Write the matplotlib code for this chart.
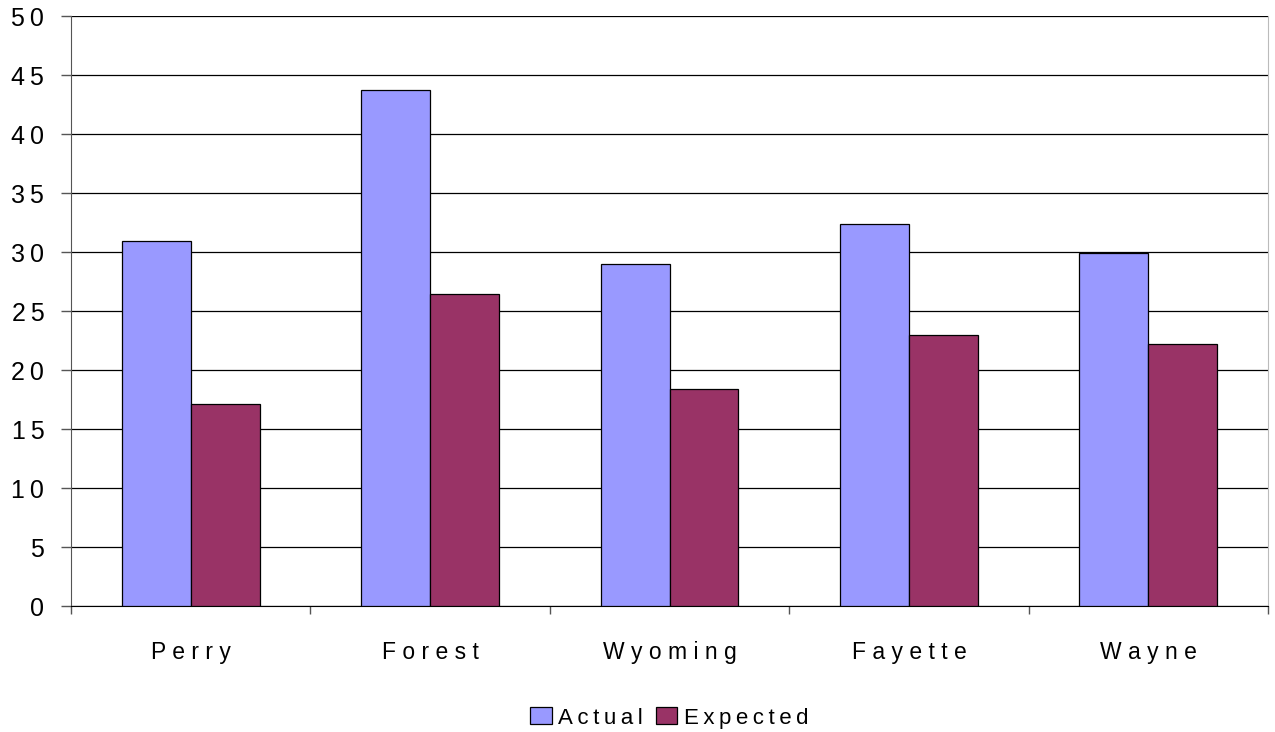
import numpy as np
import matplotlib.pyplot as plt

counties = ["Perry", "Forest", "Wyoming", "Fayette", "Wayne"]
actual = [31.0, 43.8, 29.0, 32.4, 29.9]
expected = [17.1, 26.5, 18.4, 23.0, 22.2]

plt.rcParams['font.family'] = ['Liberation Sans', 'DejaVu Sans']


def spaced(s, sep="\u2009"):
    # wide letter tracking between characters
    return sep.join(s)


fig = plt.figure(figsize=(12.75, 7.32), dpi=100)
ax = fig.add_axes([0.0557, 0.1721, 0.9388, 0.8054])

x = np.arange(len(counties))
w = 0.288
ax.bar(x - w / 2, actual, w, color="#9999FF", edgecolor="black", linewidth=0.9,
       label=spaced("Actual"), zorder=3)
ax.bar(x + w / 2, expected, w, color="#993366", edgecolor="black", linewidth=0.9,
       label=spaced("Expected"), zorder=3)

ax.set_xlim(-0.5, len(counties) - 0.5)
ax.set_ylim(0, 50)
yt = list(range(0, 51, 5))
ax.set_yticks(yt)
ax.set_yticklabels([spaced(str(v)) for v in yt])
ax.yaxis.grid(True, color="black", linewidth=0.9, zorder=0)
ax.tick_params(axis="y", length=7.2, width=1, color="#555555", labelsize=18, pad=12)

# category boundaries carry the ticks, names sit between them
ax.set_xticks(np.arange(-0.5, len(counties), 1.0))
ax.set_xticklabels([])
ax.set_xticks(x, minor=True)
ax.set_xticklabels([spaced(c, " ") for c in counties], minor=True, fontsize=16.5)
ax.tick_params(axis="x", which="major", length=5.8, width=1, color="#555555")
ax.tick_params(axis="x", which="minor", length=0, pad=25)

ax.spines["left"].set_color("#555555")
ax.spines["bottom"].set_color("black")
ax.spines["right"].set_color("#bbbbbb")
ax.spines["top"].set_visible(False)

ax.legend(loc="center", bbox_to_anchor=(0.5, -0.19), ncol=2, frameon=False,
          fontsize=16, handlelength=0.95, handleheight=0.8, handletextpad=0.3,
          columnspacing=0.6)

fig.savefig("out.png", dpi=100)
